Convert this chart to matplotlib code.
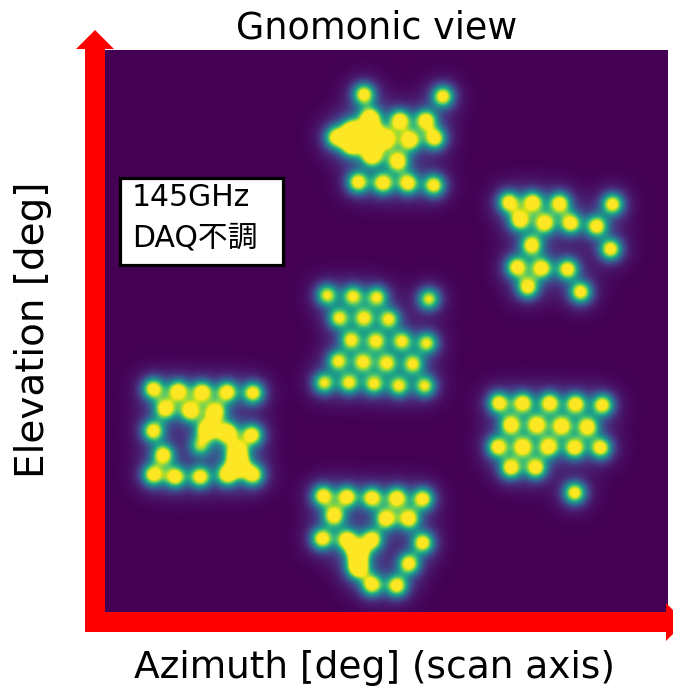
import numpy as np
import matplotlib
matplotlib.use("Agg")
import matplotlib.pyplot as plt
from matplotlib.patches import Polygon, Rectangle

plt.rcParams['font.family'] = ['DejaVu Sans', 'Noto Sans CJK JP']

# Beam centres per detector module (azimuth, elevation in deg), with relative peak amplitude
top_az = [-0.12, 0.67, 0.24, 0.50, -0.40, -0.24, -0.24, -0.06, -0.04, -0.04, 0.10, 0.34, 0.59,
          0.22, -0.18, 0.07, 0.32, 0.58]
top_el = [2.47, 2.45, 2.21, 2.21, 2.04, 2.11, 1.96, 2.23, 2.06, 1.86, 2.02, 2.01, 2.03,
          1.80, 1.59, 1.58, 1.58, 1.56]
top_amp = [1.05, 1.05, 1.05, 1.05, 1.0, 1.2, 1.2, 1.2, 1.3, 1.2, 1.05, 1.05, 1.05,
           1.05, 1.05, 1.05, 1.05, 1.05]

ur_az = [1.33, 1.57, 1.84, 2.37, 1.44, 1.69, 1.95, 2.21, 1.56, 2.35, 1.41, 1.66, 1.92, 1.52, 2.05]
ur_el = [1.39, 1.39, 1.38, 1.37, 1.21, 1.18, 1.18, 1.15, 0.96, 0.92, 0.74, 0.73, 0.72, 0.54, 0.49]
ur_amp = [1.05] * 15

mid_az = [-0.49, -0.23, 0.01, 0.53, -0.37, -0.12, 0.13, -0.25, 0.00, 0.26, 0.51,
          -0.38, -0.13, 0.11, 0.37, -0.52, -0.27, -0.02, 0.23, 0.49]
mid_el = [0.46, 0.45, 0.44, 0.42, 0.23, 0.23, 0.22, 0.01, 0.00, 0.00, -0.02,
          -0.20, -0.21, -0.22, -0.23, -0.42, -0.42, -0.43, -0.45, -0.45]
mid_amp = [0.9] * 20

left_az = [-2.23, -1.98, -1.74, -1.49, -1.23, -2.11, -1.86, -1.61, -2.23, -1.69, -1.49, -1.24,
           -2.13, -1.39, -1.38, -1.76, -2.23, -2.01, -1.76, -1.49, -1.23]
left_el = [-0.48, -0.50, -0.51, -0.51, -0.52, -0.68, -0.70, -0.71, -0.90, -0.89, -0.92, -0.94,
           -1.14, -1.11, -1.24, -1.05, -1.34, -1.36, -1.36, -1.34, -1.34]
left_amp = [1.05, 1.05, 1.05, 1.05, 1.05, 1.05, 1.05, 1.05, 1.05, 1.2, 1.2, 1.05,
            1.05, 1.2, 1.2, 0.7, 1.05, 1.05, 1.05, 1.05, 1.05]

lr_az = [1.23, 1.47, 1.74, 2.00, 2.27, 1.35, 1.61, 1.86, 2.12,
         1.22, 1.47, 1.73, 1.99, 2.25, 1.35, 1.60, 1.99]
lr_el = [-0.62, -0.62, -0.62, -0.63, -0.64, -0.84, -0.84, -0.85, -0.86,
         -1.06, -1.06, -1.06, -1.07, -1.07, -1.27, -1.27, -1.52]
lr_amp = [1.05] * 17

bot_az = [-0.53, -0.29, -0.04, 0.21, 0.47, -0.42, 0.10, 0.33, -0.54, -0.29, -0.04, 0.47,
          -0.18, -0.18, 0.33, -0.04, 0.21]
bot_el = [-1.55, -1.56, -1.57, -1.57, -1.58, -1.75, -1.78, -1.78, -1.98, -1.99, -1.99, -2.02,
          -2.12, -2.27, -2.23, -2.44, -2.45]
bot_amp = [1.05, 1.05, 1.05, 1.05, 1.05, 1.05, 1.05, 1.05, 1.05, 1.05, 1.05, 1.05,
           1.3, 1.3, 1.05, 1.05, 1.05]

# Beam profile: main lobe plus a faint broad shoulder (deg)
core_sigma = 0.072
wing_sigma = 0.15
wing_frac = 0.1
az_range = (-2.91, 2.92)
el_range = (-2.91, 2.91)

W, H = 673, 689
fig = plt.figure(figsize=(W / 100, H / 100), dpi=100)


def fx(px):
    return px / W


def fy(py):
    return 1 - py / H


# Map axes
ax = fig.add_axes([fx(85), fy(632), fx(668) - fx(85), fy(50) - fy(632)])
az_all = np.concatenate([top_az, ur_az, mid_az, left_az, lr_az, bot_az])
el_all = np.concatenate([top_el, ur_el, mid_el, left_el, lr_el, bot_el])
amp_all = np.concatenate([top_amp, ur_amp, mid_amp, left_amp, lr_amp, bot_amp])

gx = np.linspace(az_range[0], az_range[1], 700)
gy = np.linspace(el_range[0], el_range[1], 700)
GX, GY = np.meshgrid(gx, gy)
field = np.zeros_like(GX)
for a, e, amp in zip(az_all, el_all, amp_all):
    r2 = (GX - a) ** 2 + (GY - e) ** 2
    field += amp * (np.exp(-r2 / (2 * core_sigma ** 2))
                    + wing_frac * np.exp(-r2 / (2 * wing_sigma ** 2)))

ax.imshow(field, origin='lower', cmap='viridis', vmin=0, vmax=1.0,
          extent=[az_range[0], az_range[1], el_range[0], el_range[1]],
          interpolation='bilinear', aspect='auto')
ax.set_axis_off()

# Overlay in pixel units for arrows and annotation
ov = fig.add_axes([0, 0, 1, 1], facecolor='none')
ov.set_xlim(0, W)
ov.set_ylim(H, 0)
ov.set_axis_off()

red = '#ff0000'
ov.add_patch(Polygon([(85, 632), (105, 632), (105, 49), (114, 49), (95, 30), (76, 49), (85, 49)],
                     closed=True, facecolor=red, edgecolor='none'))
ov.add_patch(Polygon([(85, 612), (666, 612), (666, 603), (685, 622), (666, 641), (666, 632), (85, 632)],
                     closed=True, facecolor=red, edgecolor='none'))

ov.add_patch(Rectangle((119.5, 177.5), 163, 87, facecolor='white', edgecolor='black', linewidth=2.3))
ov.text(132, 206, '145GHz', fontsize=21.5, ha='left', va='baseline')
ov.text(132, 246, 'DAQ不調', fontsize=21.5, ha='left', va='baseline')

ov.text(377, 28, 'Gnomonic view', fontsize=26.3, ha='center', va='center')
ov.text(374, 668, 'Azimuth [deg] (scan axis)', fontsize=27, ha='center', va='center')
ov.text(33, 330, 'Elevation [deg]', fontsize=28, ha='center', va='center', rotation=90)

fig.savefig('out.png', dpi=100)
